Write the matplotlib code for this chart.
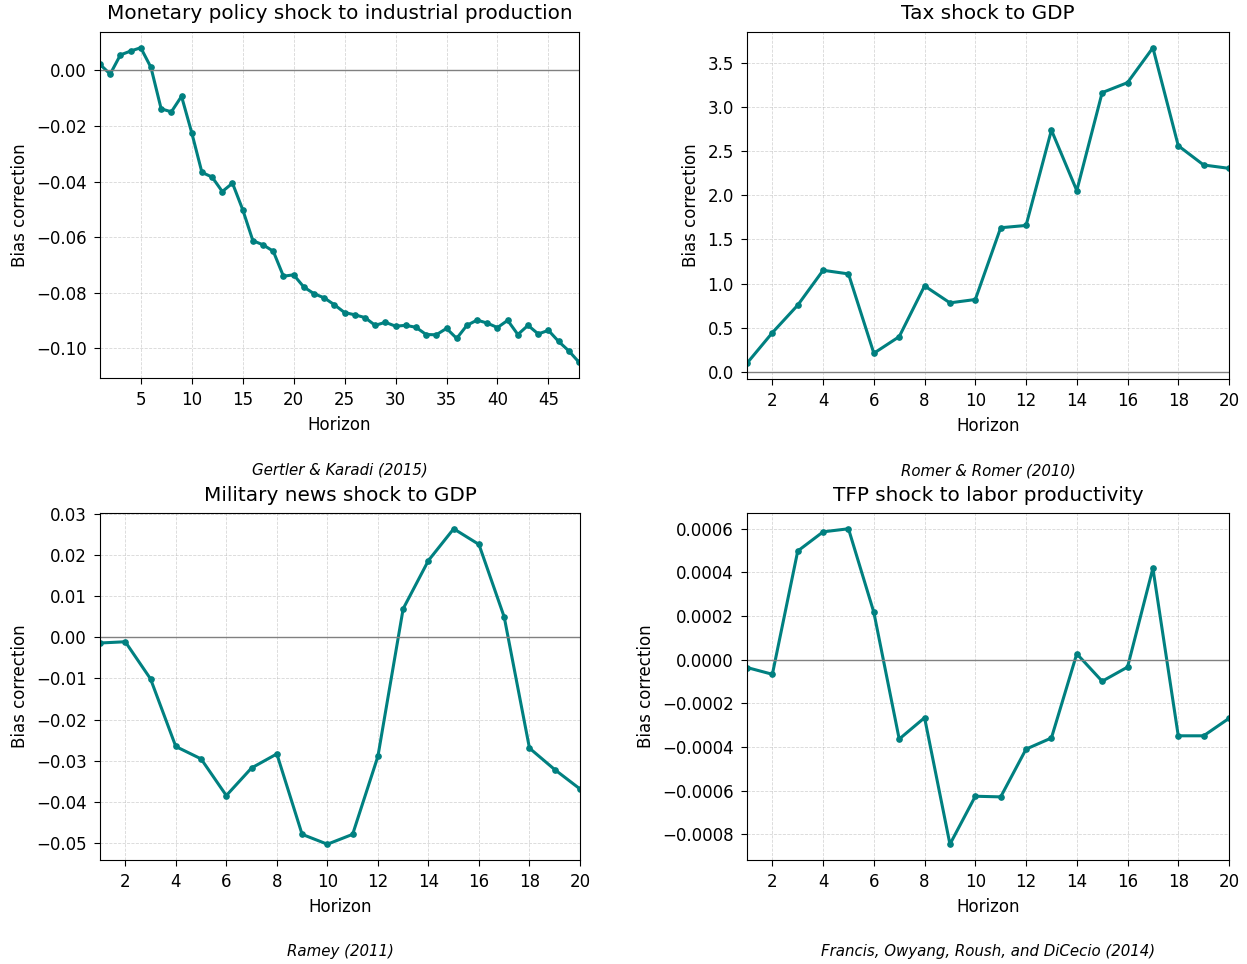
import matplotlib
matplotlib.use("Agg")
import matplotlib.pyplot as plt

# Bias correction by horizon
mp_bias = [0.0022, -0.0013, 0.0056, 0.0070, 0.0082, 0.0011, -0.0138, -0.0149, -0.0093, -0.0224,
           -0.0367, -0.0384, -0.0436, -0.0406, -0.0501, -0.0613, -0.0628, -0.0651, -0.0741, -0.0736,
           -0.0780, -0.0804, -0.0819, -0.0844, -0.0872, -0.0880, -0.0890, -0.0918, -0.0907, -0.0921,
           -0.0918, -0.0925, -0.0951, -0.0952, -0.0929, -0.0965, -0.0918, -0.0899, -0.0910, -0.0926,
           -0.0900, -0.0951, -0.0918, -0.0949, -0.0936, -0.0976, -0.1010, -0.1051]
tax_bias = [0.098, 0.444, 0.756, 1.151, 1.110, 0.211, 0.399, 0.974, 0.782, 0.820,
            1.633, 1.659, 2.739, 2.054, 3.164, 3.277, 3.672, 2.562, 2.344, 2.306]
mil_bias = [-0.0014, -0.0011, -0.0101, -0.0265, -0.0295, -0.0384, -0.0317, -0.0283, -0.0478, -0.0502,
            -0.0478, -0.0289, 0.0069, 0.0186, 0.0263, 0.0225, 0.0049, -0.0269, -0.0321, -0.0368]
tfp_bias = [-0.000036, -0.000067, 0.000498, 0.000586, 0.000600, 0.000217, -0.000364, -0.000266, -0.000846, -0.000626,
            -0.000629, -0.000410, -0.000359, 0.000027, -0.000099, -0.000034, 0.000419, -0.000349, -0.000349, -0.000269]

titles = ["Monetary policy shock to industrial production", "Tax shock to GDP",
          "Military news shock to GDP", "TFP shock to labor productivity"]
sources = ["Gertler & Karadi (2015)", "Romer & Romer (2010)",
           "Ramey (2011)", "Francis, Owyang, Roush, and DiCecio (2014)"]
series = [mp_bias, tax_bias, mil_bias, tfp_bias]
tick_steps = [5, 2, 2, 2]

W, H = 1247, 964
fig = plt.figure(figsize=(W / 100, H / 100), dpi=100)

# axes boxes in pixels: left, top, right, bottom
boxes = [(100, 32, 579, 378), (747, 32, 1229, 379),
         (100, 513, 580, 860), (747, 513, 1229, 860)]

for box, vals, title, src, step in zip(boxes, series, titles, sources, tick_steps):
    l, t, r, b = box
    ax = fig.add_axes([l / W, 1 - b / H, (r - l) / W, (b - t) / H])
    h = list(range(1, len(vals) + 1))
    ax.plot(h, vals, color="teal", lw=2.2, marker="o", markersize=3.8)
    ax.axhline(0, color="gray", lw=1.0)
    ax.set_xlim(1, len(vals))
    ax.set_xticks(range(step, len(vals) + 1, step))
    ax.grid(True, ls="--", lw=0.6, alpha=0.5)
    ax.set_title(title, fontsize=14.4, pad=9)
    ax.set_xlabel("Horizon", fontsize=12, labelpad=5)
    ax.set_ylabel("Bias correction", fontsize=12, labelpad=5)
    ax.tick_params(labelsize=12, length=4.5, pad=5)
    ax.text(0.5, -0.265, src, transform=ax.transAxes, ha="center", va="center",
            fontsize=10.8, style="italic")

fig.savefig("out.png", dpi=100)
